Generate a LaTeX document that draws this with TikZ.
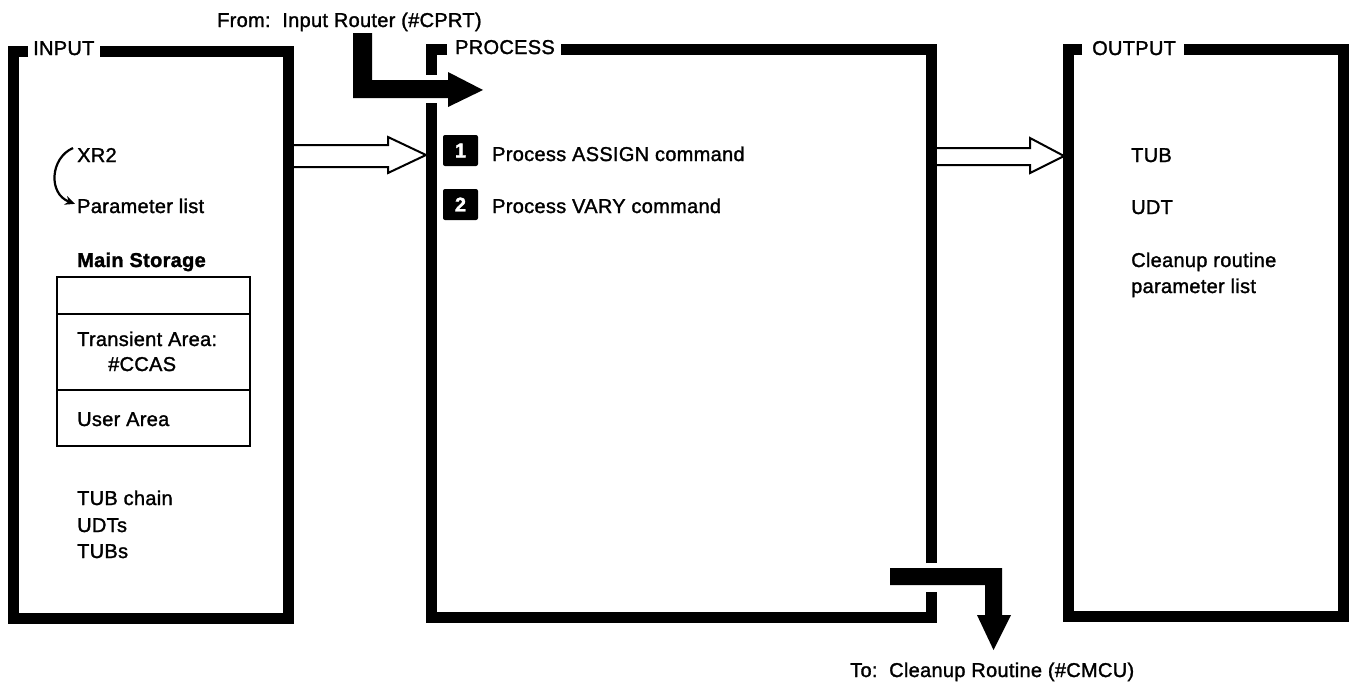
\documentclass[tikz,border=0pt]{standalone}
\usepackage{fontspec}
\setmainfont{Liberation Sans}[LetterSpace=1.5,FakeBold=1.5]
\usetikzlibrary{arrows.meta}
\begin{document}
\begin{tikzpicture}[x=1pt,y=-1pt,
  txt/.style={anchor=base west,inner sep=0pt,font=\fontsize{20}{24}\selectfont},
  boxline/.style={line width=11pt,line join=miter,line cap=butt},
  hollow/.style={draw=black,fill=white,line width=2pt,line join=miter},
  solidarrow/.style={fill=black},
  numbox/.style={fill=black,rounded corners=2pt,minimum width=35pt,minimum height=31pt,inner sep=0pt,text=white,font=\fontsize{20}{24}\selectfont\bfseries},
  storage/.style={line width=1.6pt}
]
\useasboundingbox (0,0) rectangle (1351,683);

% ---- named coordinates
\coordinate (inR) at (292,156);
\coordinate (prL) at (426,155);
\coordinate (prR) at (937,156);
\coordinate (ouL) at (1064,156);

% ---- hollow arrows (drawn first, box bars cover their tails)
\draw[hollow] (inR) ++(0,-11) -- (388,145) -- (388,137) -- (prL) -- (388,173) -- (388,167) -- ++(-96,0);
\draw[hollow] (prR) ++(0,-8) -- (1030,148) -- (1030,138) -- (ouL) -- (1030,173) -- (1030,165) -- (937,165);

% ---- labels of boxes
\node[txt] (inputlbl) at (33,55) {INPUT};
\node[txt] (processlbl) at (455,54) {PROCESS};
\node[txt] (outputlbl) at (1092,55) {OUTPUT};

% ---- INPUT box
\draw[boxline] (28,51) -- (13,51) -- (13,618) -- (288,618) -- (288,51) -- ([xshift=5pt]inputlbl.east |- 0,51);

% ---- PROCESS box
\draw[boxline] (447,49) -- (431,49) -- (431,75);
\draw[boxline] (431,103) -- (431,617) -- (931,617) -- (931,592);
\draw[boxline] (931,563) -- (931,49) -- ([xshift=6pt]processlbl.east |- 0,49);

% ---- OUTPUT box
\draw[boxline] (1082,49) -- (1068,49) -- (1068,616) -- (1343,616) -- (1343,49) -- ([xshift=8pt]outputlbl.east |- 0,49);

% ---- From arrow
\node[txt] (from) at (217,27) {From:\ \ Input Router (\#CPRT)};
\fill[solidarrow] (353,33) -- (372,33) -- (372,80) -- (448,80) -- (448,72) -- (483,90) -- (448,107) -- (448,98) -- (353,98) -- cycle;

% ---- To arrow
\fill[solidarrow] (890,568) -- (1002,568) -- (1002,615) -- (1011,615) -- (993.5,650) -- (977,615) -- (985,615) -- (985,585) -- (890,585) -- cycle;
\node[txt] (to) at (850,677) {To:\ \ Cleanup Routine (\#CMCU)};

% ---- INPUT contents
\node[txt] (xr2) at (77,162) {XR2};
\node[txt] (plist) at (77,213) {Parameter list};
\draw[line width=2.2pt,-{Stealth[length=10pt,width=9pt]}] (xr2.west) ++(-4,-7) .. controls (50,158) and (48,194) .. ([xshift=-2pt,yshift=2pt]plist.west);
\node[txt,font=\fontsize{20}{24}\selectfont\bfseries] (mainst) at (77,267) {Main Storage};
\draw[storage] (57,277) rectangle (250,446);
\draw[storage] (57,314) -- (250,314);
\draw[storage] (57,390) -- (250,390);
\node[txt] (trans) at (77,346) {Transient Area:};
\node[txt] (ccas) at (108,371) {\#CCAS};
\node[txt] (user) at (77,426) {User Area};
\node[txt] (tubchain) at (77,505) {TUB chain};
\node[txt] (udts) at (77,532) {UDTs};
\node[txt] (tubs) at (77,558) {TUBs};

% ---- PROCESS contents
\node[numbox] (n1) at (460.5,150.5) {1};
\node[txt] (p1) at (492,161) {Process ASSIGN command};
\node[numbox] (n2) at (460.5,204.5) {2};
\node[txt] (p2) at (492,213) {Process VARY command};

% ---- OUTPUT contents
\node[txt] (tub) at (1131,162) {TUB};
\node[txt] (udt) at (1131,214) {UDT};
\node[txt] (clean) at (1131,267) {Cleanup routine};
\node[txt] (cleanp) at (1131,293) {parameter list};
\end{tikzpicture}
\end{document}
